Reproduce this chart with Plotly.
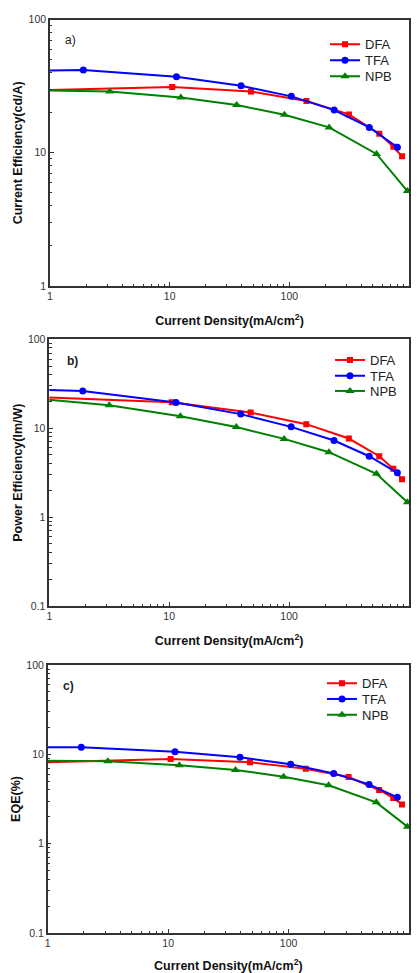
import plotly.graph_objects as go

# ---- data ----
dfa_j = [0.9, 10.5, 47.8, 139, 315, 565, 740, 875]
tfa_j = [0.9, 1.9, 11.4, 39.5, 104, 237, 466, 800]
npb_j = [0.9, 3.16, 12.4, 36.3, 91, 215, 535, 970]

# a) current efficiency (cd/A)
dfa_ce = [29.5, 31.1, 28.8, 24.5, 19.4, 13.9, 11.1, 9.4]
tfa_ce = [41.4, 41.8, 37.2, 31.8, 26.5, 20.9, 15.5, 11.0]
npb_ce = [29.3, 28.8, 26.0, 22.8, 19.3, 15.5, 9.8, 5.16]

# b) power efficiency (lm/W)
dfa_pe = [22.3, 19.6, 15.0, 11.1, 7.65, 4.84, 3.49, 2.67]
tfa_pe = [27.0, 26.2, 19.4, 14.4, 10.35, 7.27, 4.84, 3.15]
npb_pe = [21.2, 18.1, 13.6, 10.3, 7.58, 5.37, 3.07, 1.47]

# c) EQE (%)
dfa_eqe = [8.14, 8.87, 8.13, 6.91, 5.57, 3.99, 3.25, 2.75]
tfa_eqe = [11.97, 11.97, 10.7, 9.25, 7.73, 6.12, 4.61, 3.30]
npb_eqe = [8.49, 8.36, 7.53, 6.68, 5.62, 4.50, 2.90, 1.55]

names = ["DFA", "TFA", "NPB"]
colors = ["#FF0000", "#0000FF", "#008000"]
symbols = ["square", "circle", "triangle-up"]
msizes = [6, 7, 8]

x_ticks = [1, 10, 100, 1000]
x_ticktext = ["1", "10", "100", "1000"]
ya_ticks = [1, 10, 100]
ya_text = ["1", "10", "100"]
yb_ticks = [0.1, 1, 10, 100]
yb_text = ["0.1", "1", "10", "100"]

panels = [
    ([dfa_ce, tfa_ce, npb_ce], "a)", "Current Efficiency(cd/A)", ya_ticks, ya_text, [0, 2]),
    ([dfa_pe, tfa_pe, npb_pe], "b)", "Power Efficiency(lm/W)", yb_ticks, yb_text, [-1, 2]),
    ([dfa_eqe, tfa_eqe, npb_eqe], "c)", "EQE(%)", yb_ticks, yb_text, [-1, 2]),
]
xs = [dfa_j, tfa_j, npb_j]

FONT = "Liberation Sans, Arial, sans-serif"
W, H = 420, 973
ML, MR, MT, MB = 47, 11, 19, 40
PW = W - ML - MR
PH = H - MT - MB

def px_x(px):
    return max(0.0, min(1.0, (px - ML) / PW))

def px_y(py):
    return max(0.0, min(1.0, (H - MB - py) / PH))

# panel pixel boxes: (left, top, bottom)
boxes = [(50, 19.5, 286), (49.3, 339.3, 606), (47.7, 665, 933)]
# legend entry centre rows (px) and left edge of legend sample
legend_rows = [[44.3, 60.3, 76.3], [360, 375.7, 391], [683.3, 699, 714.7]]
legend_lefts = [325, 330, 322]
label_pos = [(63, 40), (65, 361), (61, 686)]

fig = go.Figure()
layout = dict(
    width=W, height=H,
    margin=dict(l=ML, r=MR, t=MT, b=MB, autoexpand=False),
    paper_bgcolor="white", plot_bgcolor="white",
    font=dict(family=FONT, color="#222"),
    showlegend=True,
    annotations=[],
)

leg_idx = 1
for i, (ys, lab, ytitle, yt, ytt, yr) in enumerate(panels):
    k = "" if i == 0 else str(i + 1)
    for s in range(3):
        leg_idx += 1
        legname = "legend" + str(leg_idx)
        fig.add_trace(go.Scatter(
            x=xs[s], y=ys[s], name=names[s], mode="lines+markers",
            line=dict(color=colors[s], width=2),
            marker=dict(symbol=symbols[s], size=msizes[s], color=colors[s]),
            xaxis="x" + k, yaxis="y" + k, legend=legname, showlegend=True,
        ))
        layout[legname] = dict(
            x=px_x(legend_lefts[i]), y=px_y(legend_rows[i][s]),
            xanchor="left", yanchor="middle",
            bgcolor="rgba(0,0,0,0)", borderwidth=0,
            font=dict(family=FONT, size=13, color="#222"),
        )
    left, top, bottom = boxes[i]
    axcommon = dict(
        type="log", showgrid=False, zeroline=False, showline=True,
        linecolor="#333", linewidth=1.5, mirror=True, automargin=True,
        ticks="inside", ticklen=4, tickcolor="#333", tickwidth=1,
        minor=dict(ticks="inside", ticklen=2.5, tickcolor="#333", dtick="D1", showgrid=False),
        tickfont=dict(family=FONT, size=10.5, color="#333"),
    )
    layout["xaxis" + k] = dict(
        axcommon, range=[0, 3], domain=[px_x(left), 1],
        anchor="y" + k, tickvals=x_ticks, ticktext=x_ticktext,
        title=dict(text="<b>Current Density(mA/cm<sup>2</sup>)</b>",
                   font=dict(family=FONT, size=12.5, color="#111"), standoff=15),
    )
    layout["yaxis" + k] = dict(
        axcommon, range=yr, domain=[px_y(bottom), px_y(top)],
        anchor="x" + k, tickvals=yt, ticktext=ytt,
        title=dict(text="<b>" + ytitle + "</b>",
                   font=dict(family=FONT, size=12.5, color="#111"), standoff=3),
    )
    lx, ly = label_pos[i]
    txt = lab if i == 0 else "<b>" + lab + "</b>"
    layout["annotations"].append(dict(
        text=txt, x=px_x(lx), y=px_y(ly), xref="paper", yref="paper",
        xanchor="left", yanchor="middle", showarrow=False,
        font=dict(family=FONT, size=12, color="#222"),
    ))

fig.update_layout(**layout)
fig.write_html("out.html", config={"displayModeBar": False},
               post_script="document.body.style.margin='0px';document.body.style.padding='0px';")
